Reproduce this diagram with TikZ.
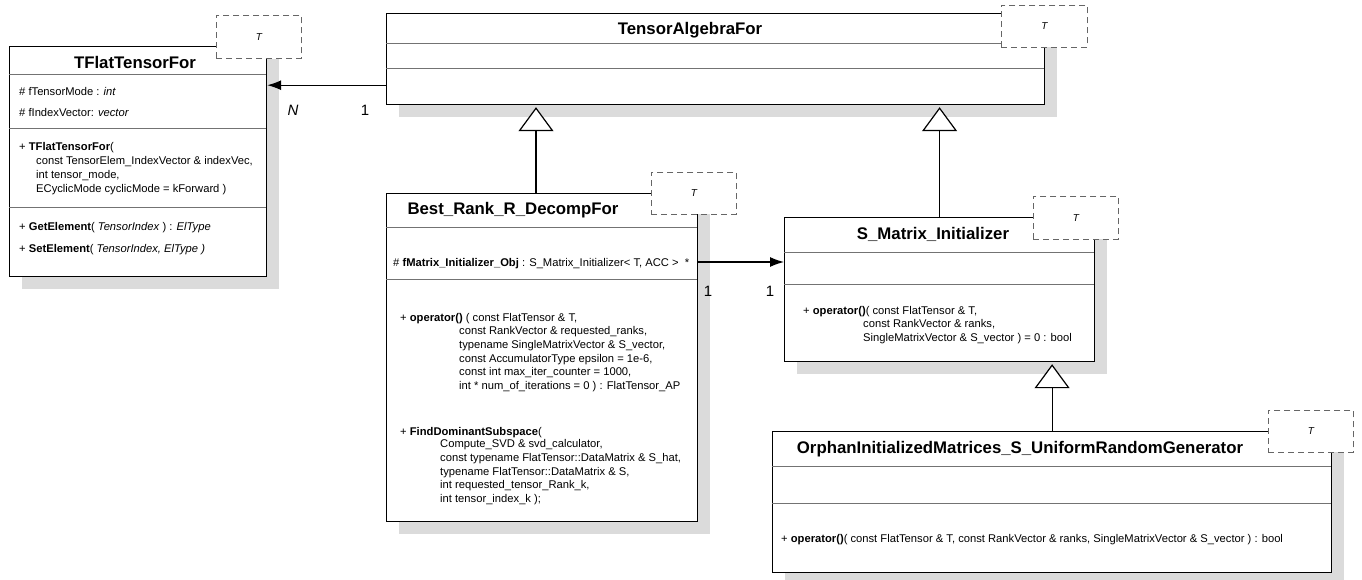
\documentclass[tikz,border=0pt]{standalone}
\usepackage{fontspec}
\setmainfont{Liberation Sans}
\usepackage{tikz}
\usetikzlibrary{positioning,arrows.meta,shadows}

\begin{document}
\begin{tikzpicture}[x=1pt, y=-1pt,
  class/.style = {draw, line width=1.2pt, fill=white, inner sep=0pt, anchor=north west,
    drop shadow={shadow xshift=12pt, shadow yshift=-12pt, fill=black!14, opacity=1}},
  tmpl/.style = {draw=black!60, dash pattern=on 6pt off 4pt, line width=0.9pt, fill=white,
    inner sep=0pt, anchor=north west, font=\fontsize{10}{12}\selectfont\itshape},
  sep/.style = {draw=black!55, line width=0.9pt},
  title/.style = {font=\fontsize{16.8}{20}\selectfont\bfseries, inner sep=0pt},
  member/.style = {font=\fontsize{11.2}{13.6}\selectfont, align=left, anchor=base west, inner sep=0pt},
  args/.style = {member, anchor=north west},
  mult/.style = {font=\fontsize{15}{18}\selectfont, inner sep=0pt},
  assoc/.style = {-{Latex[length=14pt, width=10pt]}, line width=1.2pt},
  inherit/.style = {-{Triangle[open, length=24pt, width=35pt, fill=white]}, line width=1.2pt, shorten >=2pt}
]
\useasboundingbox (0,0) rectangle (1362,580);

% class boxes
\node[class, minimum width=257pt, minimum height=230pt] (tflat) at (9,46) {};
\node[class, minimum width=658pt, minimum height=91pt] (talg) at (386,13) {};
\node[class, minimum width=311pt, minimum height=328pt] (bestrank) at (386,193) {};
\node[class, minimum width=310pt, minimum height=144pt] (sinit) at (784,217) {};
\node[class, minimum width=559pt, minimum height=141pt] (orphan) at (772,431) {};

% compartments
\draw[sep] (9,74) -- (266,74) (9,128) -- (266,128) (9,207) -- (266,207);
\draw[sep] (386,43) -- (1044,43) (386,68) -- (1044,68);
\draw[sep] (386,227) -- (697,227) (386,279) -- (697,279);
\draw[sep] (784,252) -- (1094,252) (784,284) -- (1094,284);
\draw[sep] (772,466) -- (1331,466) (772,503) -- (1331,503);

% template parameters
\node[tmpl, minimum width=85pt, minimum height=43pt] (tflatT) at (216,15) {T};
\node[tmpl, minimum width=86pt, minimum height=42pt] (talgT) at (1001,5) {T};
\node[tmpl, minimum width=85pt, minimum height=42pt] (bestrankT) at (651,172) {T};
\node[tmpl, minimum width=85pt, minimum height=43pt] (sinitT) at (1033,196) {T};
\node[tmpl, minimum width=85pt, minimum height=42pt] (orphanT) at (1268,410) {T};

% TFlatTensorFor
\node[title] (tflatName) at (135,62) {TFlatTensorFor};
\node[member] (tflatMode) at (19,96) {\# fTensorMode : \textit{int}};
\node[member] (tflatIdx) at (19,117) {\# fIndexVector: \textit{vector}};
\node[member] (tflatCtor) at (19,151) {+ \textbf{TFlatTensorFor}(};
\node[args] (tflatCtorArgs) at (36,156.5) {const TensorElem\_IndexVector \& indexVec,\\
  int tensor\_mode,\\
  ECyclicMode cyclicMode = kForward )};
\node[member] (tflatGet) at (19,230) {+ \textbf{GetElement}( \textit{TensorIndex} ) : \textit{ElType}};
\node[member] (tflatSet) at (19,252) {+ \textbf{SetElement}( \textit{TensorIndex, ElType )}};

% TensorAlgebraFor
\node[title] (talgName) at (690,30) {TensorAlgebraFor};

% Best_Rank_R_DecompFor
\node[title] (bestrankName) at (513,210) {Best\_Rank\_R\_DecompFor};
\node[member] (bestrankAttr) at (393,266) {\# \textbf{fMatrix\_Initializer\_Obj} : S\_Matrix\_Initializer< T, ACC >~~*};
\node[member] (bestrankOp) at (400,321) {+ \textbf{operator()} ( const FlatTensor \& T,};
\node[args] (bestrankOpArgs) at (459,326.5) {const RankVector \& requested\_ranks,\\
  typename SingleMatrixVector \& S\_vector,\\
  const AccumulatorType epsilon = 1e-6,\\
  const int max\_iter\_counter = 1000,\\
  int * num\_of\_iterations = 0 ) : FlatTensor\_AP};
\node[member] (bestrankFind) at (400,435) {+ \textbf{FindDominantSubspace}(};
\node[args] (bestrankFindArgs) at (440,439.5) {Compute\_SVD \& svd\_calculator,\\
  const typename FlatTensor::DataMatrix \& S\_hat,\\
  typename FlatTensor::DataMatrix \& S,\\
  int requested\_tensor\_Rank\_k,\\
  int tensor\_index\_k );};

% S_Matrix_Initializer
\node[title] (sinitName) at (933,234) {S\_Matrix\_Initializer};
\node[member] (sinitOp) at (803,314) {+ \textbf{operator()}( const FlatTensor \& T,};
\node[args] (sinitOpArgs) at (863,319.5) {const RankVector \& ranks,\\
  SingleMatrixVector \& S\_vector ) = 0 : bool};

% OrphanInitializedMatrices_S_UniformRandomGenerator
\node[title] (orphanName) at (1020,449) {OrphanInitializedMatrices\_S\_UniformRandomGenerator};
\node[member] (orphanOp) at (781,542) {+ \textbf{operator()}( const FlatTensor \& T, const RankVector \& ranks, SingleMatrixVector \& S\_vector ) : bool};

% associations
\draw[assoc] ([yshift=20pt]talg.south west) -- ([yshift=20pt]talg.south west -| tflat.east);
\draw[assoc] ([yshift=-69pt]bestrank.north east) -- ([yshift=-69pt]bestrank.north east -| sinit.west);
\node[mult, font=\fontsize{15}{18}\selectfont\itshape] (multN) at (293,110) {N};
\node[mult] (multOne) at (365,110) {1};
\node[mult] (multSrc) at (708,291) {1};
\node[mult] (multDst) at (770,291) {1};

% generalizations
\draw[inherit] ([xshift=150pt]bestrank.north west) -- ([xshift=150pt]bestrank.north west |- talg.south);
\draw[inherit] (sinit.north) -- (sinit.north |- talg.south);
\draw[inherit] (orphan.north) -- (orphan.north |- sinit.south);
\end{tikzpicture}
\end{document}
